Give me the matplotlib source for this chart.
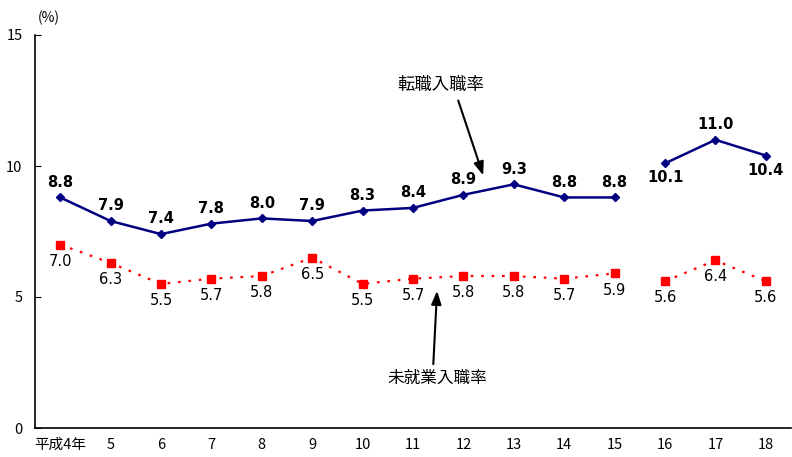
import matplotlib.pyplot as plt
import numpy as np

plt.rcParams['font.family'] = ['Noto Sans CJK JP', 'DejaVu Sans']

## data (gap between 15 and 16) ##
years = ['平成4年', '5', '6', '7', '8', '9', '10', '11', '12', '13', '14', '15', '16', '17', '18']
tenshoku = [8.8, 7.9, 7.4, 7.8, 8.0, 7.9, 8.3, 8.4, 8.9, 9.3, 8.8, 8.8, 10.1, 11.0, 10.4]
mishugyo = [7.0, 6.3, 5.5, 5.7, 5.8, 6.5, 5.5, 5.7, 5.8, 5.8, 5.7, 5.9, 5.6, 6.4, 5.6]
gap_after = 11  # series break between index 11 (15) and 12 (16)
below_blue = [12, 14]  # blue labels drawn under the point

fig = plt.figure(figsize=(7.92, 4.57), dpi=100)
ax = plt.axes((35/792, 1 - 428/457, 756/792, 393/457))

x = np.arange(len(years))

# split each series into the two segments
for seg in (slice(0, gap_after + 1), slice(gap_after + 1, None)):
    ax.plot(x[seg], tenshoku[seg], color='#000080', lw=1.8, marker='D', ms=4)
    ax.plot(x[seg], mishugyo[seg], color='#ff0000', lw=1.6, ls=(0, (1.2, 3.5)),
            marker='s', ms=6, mec='#ff0000')

# value labels
for i, v in enumerate(tenshoku):
    dy = -10.5 if i in below_blue else 11
    ax.annotate(f'{v:.1f}', (x[i], v), xytext=(0, dy), textcoords='offset points',
                ha='center', va='center', fontsize=10.5, fontweight='bold', fontfamily='DejaVu Sans')
for i, v in enumerate(mishugyo):
    ax.annotate(f'{v:.1f}', (x[i], v), xytext=(0, -12), textcoords='offset points',
                ha='center', va='center', fontsize=10.5, fontfamily='DejaVu Sans')

# series callouts
ax.annotate('', xy=(8.41, 9.54), xytext=(7.88, 12.6),
            arrowprops=dict(arrowstyle='-|>,head_length=0.8,head_width=0.3', color='black', lw=1.5))
ax.text(7.54, 13.1, '転職入職率', ha='center', va='center', fontsize=12.5)
ax.annotate('', xy=(7.48, 5.34), xytext=(7.40, 2.33),
            arrowprops=dict(arrowstyle='-|>,head_length=0.8,head_width=0.3', color='black', lw=1.5))
ax.text(7.48, 1.9, '未就業入職率', ha='center', va='center', fontsize=12)

ax.set_xlim(-0.5, len(years) - 0.5)
ax.set_ylim(0, 15)
ax.set_yticks([0, 5, 10, 15])
ax.set_xticks(x)
ax.set_xticklabels(years, fontsize=10.5)
ax.tick_params(axis='y', direction='in', length=4, labelsize=10.5, pad=9)
ax.tick_params(axis='x', length=0, pad=7)
for s in ('top', 'right'):
    ax.spines[s].set_visible(False)
for s in ('left', 'bottom'):
    ax.spines[s].set_linewidth(1.2)

fig.text(38/792, 1 - 18/457, '(%)', ha='left', va='center', fontsize=10)

fig.savefig('out.png', dpi=100)
